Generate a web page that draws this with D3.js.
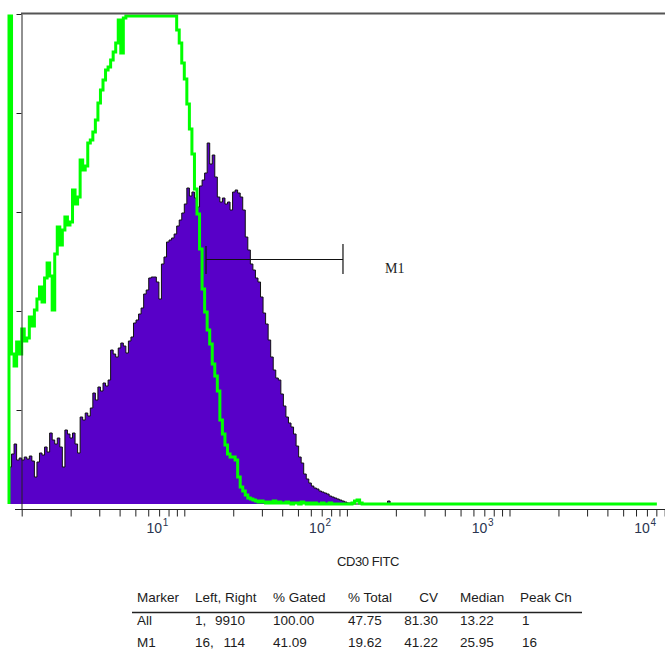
<!DOCTYPE html>
<html>
<head>
<meta charset="utf-8">
<script src="https://cdn.jsdelivr.net/npm/d3@7"></script>
<style>
  body { margin: 0; background: #fff; }
  svg { display: block; font-family: "Liberation Sans", Arial, sans-serif; }
</style>
</head>
<body>
<svg id="canvas"></svg>
<script>
// histogram bins: 64 per decade, first bin sits a bit left of 10^0
const firstBin = -5;
const binsPerDecade = 64;

// CD30 FITC sample (purple, filled)
const purpleCounts = [
  37, 50, 60, 44, 46, 44, 47, 45, 48, 43,
  27, 42, 51, 49, 57, 52, 71, 64, 60, 66,
  57, 37, 74, 70, 66, 71, 60, 51, 87, 84,
  91, 88, 96, 111, 104, 117, 113, 121, 118, 124,
  154, 150, 147, 156, 161, 158, 151, 163, 167, 181,
  184, 190, 196, 210, 214, 226, 227, 227, 222, 205,
  240, 247, 262, 264, 266, 270, 278, 284, 291, 300,
  316, 308, 312, 306, 297, 318, 324, 331, 361, 340,
  349, 327, 307, 302, 306, 300, 302, 294, 312, 314,
  311, 307, 294, 267, 254, 240, 234, 226, 222, 207,
  191, 180, 164, 147, 134, 126, 124, 110, 98, 87,
  81, 77, 70, 58, 47, 41, 30, 25, 21, 18,
  16, 15, 13, 12, 11, 10, 8, 7, 6, 5,
  4, 3, 2, 1, 1, 0, 0, 0, 0, 0,
  0, 0, 0, 0, 0, 0, 0, 0, 0, 3,
  0
];

// control (green line)
const greenCounts = [
  488, 150, 138, 162, 150, 175, 163, 166, 187, 178,
  194, 205, 217, 202, 226, 241, 228, 194, 250, 277,
  259, 274, 287, 279, 282, 314, 300, 307, 344, 334,
  338, 361, 364, 372, 384, 401, 414, 424, 434, 437,
  444, 452, 461, 484, 451, 486, 488, 488, 488, 488,
  488, 488, 488, 488, 488, 488, 488, 488, 488, 488,
  488, 488, 488, 488, 488, 488, 474, 461, 441, 425,
  400, 375, 350, 315, 290, 255, 215, 192, 174, 160,
  140, 128, 113, 84, 70, 59, 50, 47, 47, 44,
  27, 17, 13, 9, 6, 5, 4, 3, 2, 3,
  2, 1, 2, 1, 3, 1, 2, 1, 1, 2,
  1, 0, 1, 1, 0, 2, 1, 0, 1, 0,
  1, 0, 0, 1, 0, 0, 1, 0, 0, 0,
  0, 0, 0, 0, 0, 1, 3, 4, 1, 0,
  0
];
const greenLastBin = 250;

const decades = [1, 2, 3, 4];
const markerRange = [13.6, 94.6];
const markerLabel = "M1";
const xTitle = "CD30 FITC";

const tableHeader = ["Marker", "Left, Right", "% Gated", "% Total", "CV", "Median", "Peak Ch"];
const tableMarkers = ["All", "M1"];
const tableLeft = ["1,", "16,"];
const tableRight = ["9910", "114"];
const tableGated = ["100.00", "41.09"];
const tableTotal = ["47.75", "19.62"];
const tableCV = ["81.30", "41.22"];
const tableMedian = ["13.22", "25.95"];
const tablePeak = ["1", "16"];

const width = 665;
const height = 651;

const svg = d3.select("#canvas").attr("width", width).attr("height", height);

const xScale = d3.scaleLog().domain([1, 10000]).range([21.7, 672.1]);
const yScale = d3.scaleLinear().domain([0, 490]).range([504, 14]);
const yTickScale = d3.scaleLinear().domain([0, 5]).range([509, 14]);

const binValue = k => Math.pow(10, k / binsPerDecade);

const purpleData = purpleCounts.map((c, i) => ({v: binValue(firstBin + i), c}));
purpleData.push({v: binValue(firstBin + purpleCounts.length), c: 0});

const greenData = [{v: binValue(firstBin), c: 0}]
  .concat(greenCounts.map((c, i) => ({v: binValue(firstBin + i), c})));
greenData.push({v: binValue(greenLastBin), c: 0});

const area = d3.area()
  .x(d => xScale(d.v))
  .y0(yScale(0))
  .y1(d => yScale(d.c))
  .curve(d3.curveStepAfter);
const line = d3.line()
  .x(d => xScale(d.v))
  .y(d => yScale(d.c))
  .curve(d3.curveStepAfter);

const plot = svg.append("g").classed("plot", true);
plot.append("path").datum(purpleData).attr("d", area).attr("fill", "#5800c8");
plot.append("path").datum(purpleData).attr("d", line)
  .attr("fill", "none").attr("stroke", "#111").attr("stroke-width", 1);
plot.append("path").datum(greenData).attr("d", line)
  .attr("fill", "none").attr("stroke", "#00ff00").attr("stroke-width", 3)
  .attr("stroke-linejoin", "miter");

// frame: top rule
svg.append("line")
  .attr("x1", 21).attr("x2", width).attr("y1", 13.5).attr("y2", 13.5)
  .attr("stroke", "#555").attr("stroke-width", 2);

// x axis
const xGroup = svg.append("g").attr("transform", "translate(0,509.5)");
xGroup.call(d3.axisBottom(xScale).tickValues(xScale.ticks()).tickFormat("").tickSize(7).tickSizeOuter(0))
  .call(g => g.select(".domain").remove())
  .call(g => g.selectAll("line").attr("stroke", "#222"));
xGroup.append("line").attr("x1", 15).attr("x2", width).attr("stroke", "#222");

decades.forEach(e => {
  const x = xScale(Math.pow(10, e)) - 30;
  svg.append("text").attr("x", x).attr("y", 533)
    .attr("text-anchor", "middle").attr("fill", "#2a3550")
    .style("font-size", "14px").text("10");
  svg.append("text").attr("x", x + 8.5).attr("y", 526)
    .attr("fill", "#2a3550").style("font-size", "10px").text(e);
});

svg.append("text").attr("x", 368).attr("y", 566)
  .attr("text-anchor", "middle").attr("fill", "#222")
  .style("font-size", "13px").style("letter-spacing", "-0.4px")
  .text(xTitle);

// y axis (unlabelled)
svg.append("g").attr("transform", "translate(21.5,0)")
  .call(d3.axisLeft(yTickScale).ticks(5).tickFormat("").tickSize(5).tickSizeOuter(0))
  .call(g => g.select(".domain").attr("stroke", "#222"))
  .call(g => g.selectAll("line").attr("stroke", "#222"));

// M1 marker
const mx0 = xScale(markerRange[0]);
const mx1 = xScale(markerRange[1]);
const marker = svg.append("g").attr("stroke", "#111").attr("stroke-width", 1.2);
marker.append("line").attr("x1", mx0).attr("x2", mx1).attr("y1", 259.5).attr("y2", 259.5);
marker.append("line").attr("x1", mx0).attr("x2", mx0).attr("y1", 246).attr("y2", 274);
marker.append("line").attr("x1", mx1).attr("x2", mx1).attr("y1", 244).attr("y2", 274);
svg.append("text").attr("x", 385).attr("y", 273)
  .attr("fill", "#222").style("font-family", "'Liberation Serif', 'Times New Roman', serif")
  .style("font-size", "14px").text(markerLabel);

// stats table
const table = svg.append("g").attr("fill", "#1c1c1c").style("font-size", "13.5px");
const colX = [137, 195, 273, 348, 438, 460, 520];
tableHeader.forEach((h, i) => {
  table.append("text").attr("x", colX[i]).attr("y", 602)
    .attr("text-anchor", i === 4 ? "end" : "start").text(h);
});
svg.append("line").attr("x1", 132).attr("x2", 582).attr("y1", 612.5).attr("y2", 612.5)
  .attr("stroke", "#222").attr("stroke-width", 1.3);

const rowY = [625, 647];
tableMarkers.forEach((m, r) => {
  const y = rowY[r];
  table.append("text").attr("x", colX[0]).attr("y", y).text(m);
  table.append("text").attr("x", colX[1]).attr("y", y).text(tableLeft[r]);
  table.append("text").attr("x", 245).attr("y", y).attr("text-anchor", "end").text(tableRight[r]);
  table.append("text").attr("x", colX[2]).attr("y", y).text(tableGated[r]);
  table.append("text").attr("x", colX[3]).attr("y", y).text(tableTotal[r]);
  table.append("text").attr("x", colX[4]).attr("y", y).attr("text-anchor", "end").text(tableCV[r]);
  table.append("text").attr("x", colX[5]).attr("y", y).text(tableMedian[r]);
  table.append("text").attr("x", 522).attr("y", y).text(tablePeak[r]);
});
</script>
</body>
</html>
